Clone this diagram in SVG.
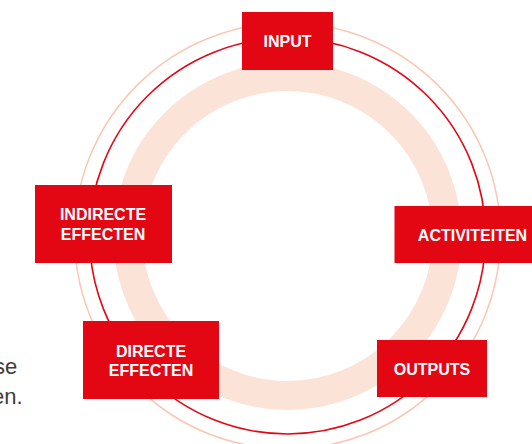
<svg xmlns="http://www.w3.org/2000/svg" width="532" height="444" viewBox="0 0 532 444">
<style>
.box{fill:#E30613}
.lbl{font-family:"Liberation Sans",Arial,sans-serif;font-weight:bold;font-size:16px;fill:#FFFFFF;text-anchor:middle}
.side{font-family:"Liberation Sans",Arial,sans-serif;font-size:22px;fill:#3C3C3C}
</style>
<rect width="532" height="444" fill="#FFFFFF"/>
<g id="rings" fill="none">
<circle cx="287.5" cy="236" r="159.5" stroke="#FBE3D8" stroke-width="29"/>
<circle cx="287.5" cy="236" r="213" stroke="#F8C8B2" stroke-width="1.5"/>
<circle cx="287.5" cy="236" r="198" stroke="#E30613" stroke-width="1.6"/>
</g>
<g id="connectors"></g>
<g id="side-text">
<text class="side" x="-6" y="374">se</text>
<text class="side" x="-8" y="404">en.</text>
</g>
<g id="input">
<rect class="box" x="242" y="12" width="91" height="58"/>
<text class="lbl" x="287.5" y="46.5">INPUT</text>
</g>
<g id="activiteiten">
<rect class="box" x="394.5" y="206" width="140" height="57"/>
<text class="lbl" x="472.5" y="240.5">ACTIVITEITEN</text>
</g>
<g id="outputs">
<rect class="box" x="377" y="340" width="110" height="57"/>
<text class="lbl" x="432" y="375">OUTPUTS</text>
</g>
<g id="directe-effecten">
<rect class="box" x="83" y="321" width="136" height="78"/>
<text class="lbl" x="151" y="356.5">DIRECTE</text>
<text class="lbl" x="151" y="375.5">EFFECTEN</text>
</g>
<g id="indirecte-effecten">
<rect class="box" x="35" y="185" width="137" height="78"/>
<text class="lbl" x="103" y="220">INDIRECTE</text>
<text class="lbl" x="103" y="240">EFFECTEN</text>
</g>
</svg>
